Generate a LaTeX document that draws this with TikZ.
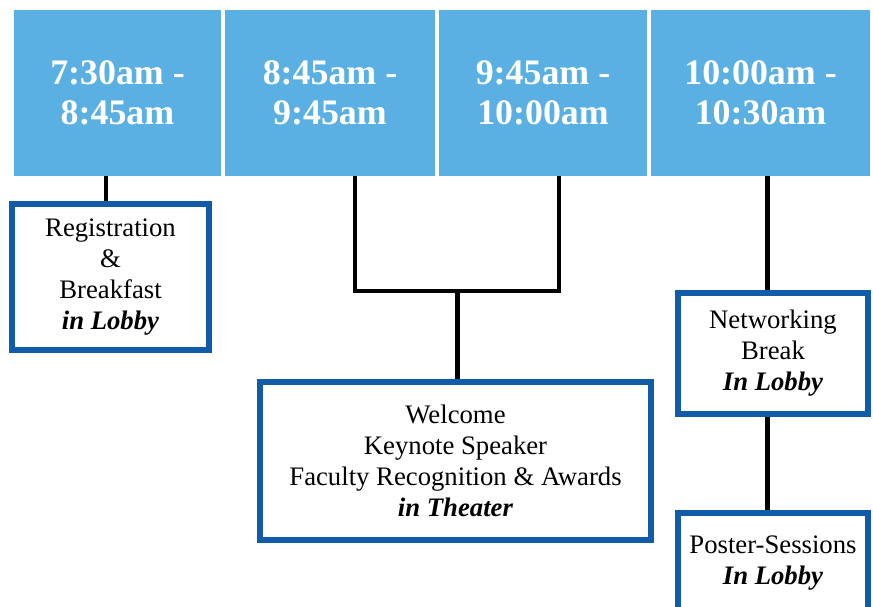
\documentclass[tikz,border=0pt]{standalone}
\usepackage{fontspec}
\setmainfont{Liberation Serif}
\usepackage{xcolor}
\usetikzlibrary{positioning,calc}
\definecolor{slotblue}{RGB}{90,176,226}
\definecolor{boxblue}{RGB}{16,92,168}

\begin{document}
\begin{tikzpicture}[x=0.025cm,y=-0.025cm,
  slot/.style={fill=slotblue,text=white,align=center,minimum height=4.15cm,font=\fontsize{25.5}{28.5}\selectfont\bfseries},
  event/.style={draw=boxblue,line width=0.15cm,fill=white,align=center,font=\fontsize{19}{22}\selectfont},
  link/.style={draw=black,line width=3pt}]
\clip (0,0) rectangle (873,606);
\fill[white] (0,0) rectangle (873,606);
% time slots
\node[slot,minimum width=5.175cm](slot1) at (117.5,93){7:30am -\\8:45am};
\node[slot,minimum width=5.25cm](slot2) at (330,93){8:45am -\\9:45am};
\node[slot,minimum width=5.2cm](slot3) at (543,93){9:45am -\\10:00am};
\node[slot,minimum width=5.475cm](slot4) at (760.5,93){10:00am -\\10:30am};
% events
\node[event,minimum width=4.925cm,minimum height=3.65cm](reg) at (110.5,277){Registration\\\&\\Breakfast\\\textbf{\textit{in Lobby}}};
\node[event,minimum width=9.775cm,minimum height=3.95cm](welc) at (455.5,461){Welcome\\Keynote Speaker\\Faculty Recognition \& Awards\\\textbf{\textit{in Theater}}};
\node[event,minimum width=4.75cm,minimum height=3.025cm](net) at (773,353.5){Networking\\Break\\\textbf{\textit{In Lobby}}};
\node[event,minimum width=4.75cm,minimum height=2.5cm,anchor=north](post) at (773,510){Poster-Sessions\\\textbf{\textit{In Lobby}}};
% connectors
\coordinate (bl) at (355,291);
\coordinate (br) at (559,291);
\coordinate (lt) at ($(reg.north)+(-4.5,0)$);
\coordinate (md) at ($(welc.north)+(2,0)$);
\coordinate (rt) at ($(net.north)+(-5.5,0)$);
\draw[link] (slot1.south -| lt) -- (lt);
\draw[link] (slot2.south -| bl) -- (bl) -- (br) -- (slot3.south -| br);
\draw[link] (md) -- (md |- bl);
\draw[link] (slot4.south -| rt) -- (rt);
\draw[link] (net.south -| rt) -- (post.north -| rt);
\end{tikzpicture}
\end{document}
